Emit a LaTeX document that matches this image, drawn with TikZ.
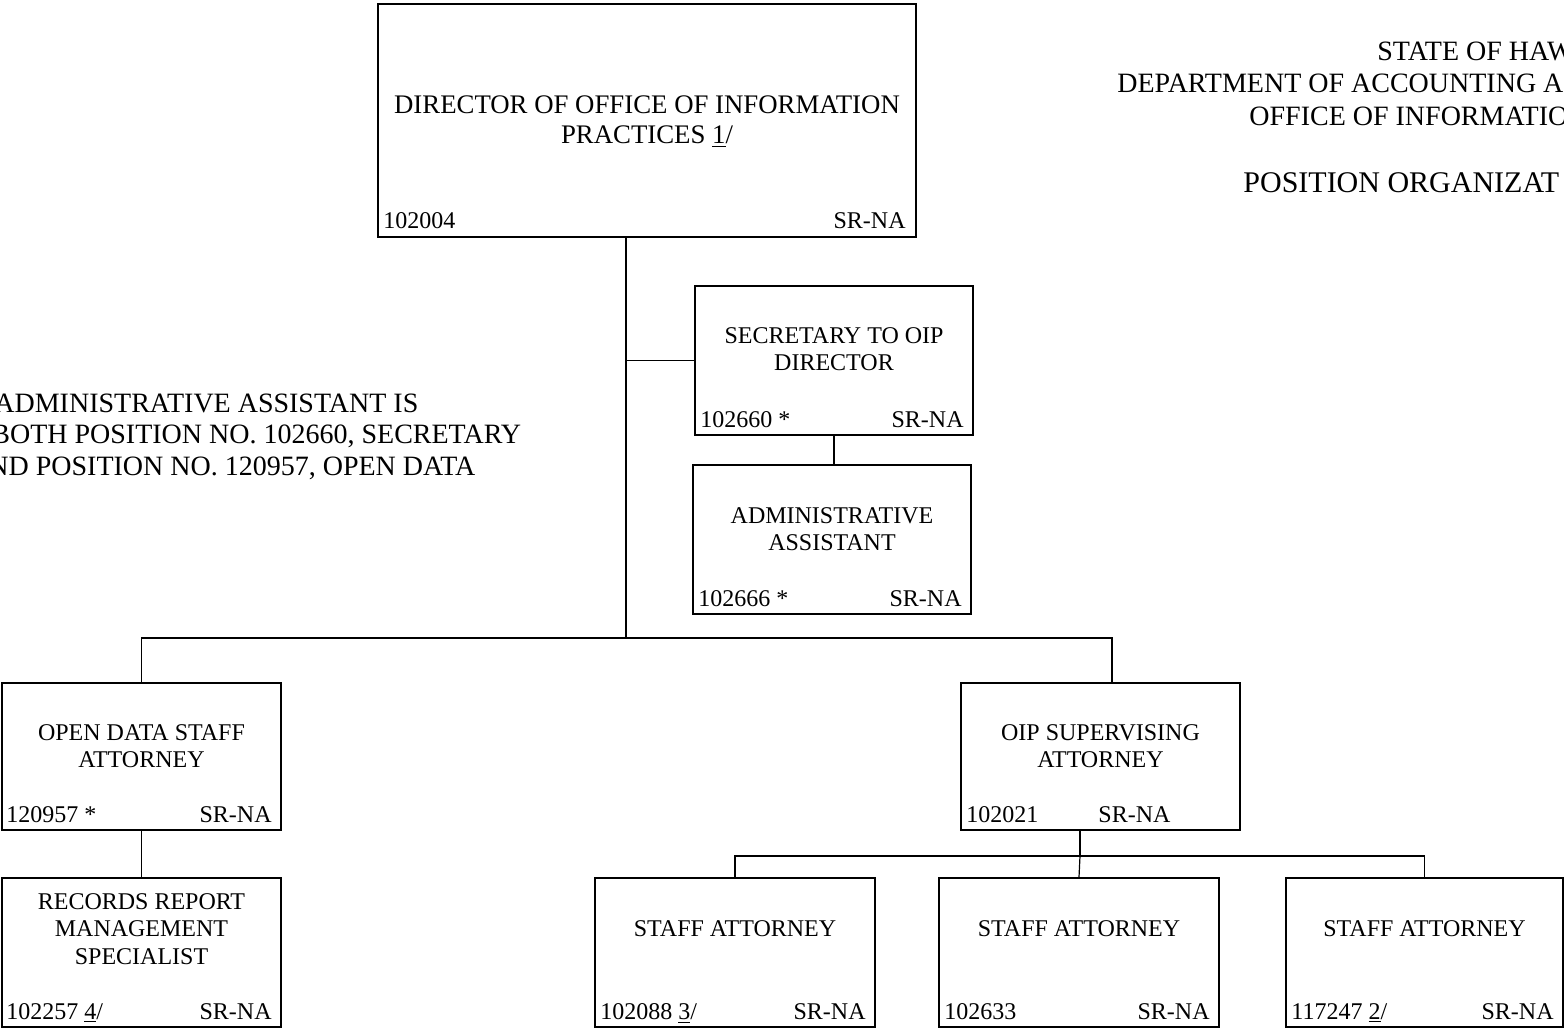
\documentclass[tikz,border=0pt]{standalone}
\usepackage{fontspec}
\setmainfont{Liberation Serif}
\usetikzlibrary{fit}
\begin{document}
\begin{tikzpicture}[x=0.5pt,y=-0.5pt]
\tikzset{
  orgbox/.style={draw, line width=0.7pt, inner sep=0pt},
  ttl/.style={align=center, font=\fontsize{12pt}{13.8pt}\selectfont, inner sep=0pt, anchor=north},
  dirttl/.style={align=center, font=\fontsize{13.4pt}{15pt}\selectfont, inner sep=0pt, anchor=north},
  numlbl/.style={font=\fontsize{12pt}{13.8pt}\selectfont, inner sep=0pt, anchor=base west},
  grdlbl/.style={font=\fontsize{12pt}{13.8pt}\selectfont, inner sep=0pt, anchor=base east},
  hdr/.style={font=\fontsize{14pt}{16.5pt}\selectfont, inner sep=0pt, anchor=base west},
  conn/.style={line width=0.6pt},
}
\useasboundingbox (0,0) rectangle (1564,1029);
\clip (0,0) rectangle (1564,1029);
\fill[white] (0,0) rectangle (1564,1029);

% ---- header (cut at the right edge) ----
\node[hdr] (h1) at (1377,60) {STATE OF HAW};
\node[hdr] (h2) at (1117,92) {DEPARTMENT OF ACCOUNTING A};
\node[hdr] (h3) at (1249,125) {OFFICE OF INFORMATIO};
\node[hdr, font=\fontsize{15pt}{17pt}\selectfont] (h4) at (1243,192) {POSITION ORGANIZAT};

% ---- note (cut at the left edge) ----
\node[hdr] (n1) at (-6,412) {ADMINISTRATIVE ASSISTANT IS};
\node[hdr] (n2) at (-9,443.5) {BOTH POSITION NO. 102660, SECRETARY};
\node[hdr] (n3) at (-12,475) {ND POSITION NO. 120957, OPEN DATA};

% ---- director ----
\node[orgbox, fit={(378,4) (916,237)}] (dir) {};
\node[dirttl] (dir-t) at (647,95) {DIRECTOR OF OFFICE OF INFORMATION\\PRACTICES \underline{1}/};
\node[numlbl] (dir-n) at (383,228) {102004};
\node[grdlbl] (dir-g) at (906,228) {SR-NA};

% ---- secretary ----
\node[orgbox, fit={(695,286) (973,435)}] (sec) {};
\node[ttl] (sec-t) at (834,327) {SECRETARY TO OIP\\DIRECTOR};
\node[numlbl] (sec-n) at (700,427) {102660 *};
\node[grdlbl] (sec-g) at (964,427) {SR-NA};

% ---- administrative assistant ----
\node[orgbox, fit={(693,465) (971,614)}] (adm) {};
\node[ttl] (adm-t) at (832,507) {ADMINISTRATIVE\\ASSISTANT};
\node[numlbl] (adm-n) at (698,606) {102666 *};
\node[grdlbl] (adm-g) at (962,606) {SR-NA};

% ---- open data staff attorney ----
\node[orgbox, fit={(2,683) (281,830)}] (ods) {};
\node[ttl] (ods-t) at (141.5,724) {OPEN DATA STAFF\\ATTORNEY};
\node[numlbl] (ods-n) at (6,822) {120957 *};
\node[grdlbl] (ods-g) at (272,822) {SR-NA};

% ---- records report management specialist ----
\node[orgbox, fit={(2,878) (281,1027)}] (rec) {};
\node[ttl] (rec-t) at (141.5,893) {RECORDS REPORT\\MANAGEMENT\\SPECIALIST};
\node[numlbl] (rec-n) at (6,1019) {102257 \underline{4}/};
\node[grdlbl] (rec-g) at (272,1019) {SR-NA};

% ---- OIP supervising attorney ----
\node[orgbox, fit={(961,683) (1240,830)}] (oip) {};
\node[ttl] (oip-t) at (1100.5,724) {OIP SUPERVISING\\ATTORNEY};
\node[numlbl] (oip-n) at (966,822) {102021};
\node[numlbl] (oip-g) at (1098,822) {SR-NA};

% ---- staff attorneys ----
\node[orgbox, fit={(595,878) (875,1027)}] (st1) {};
\node[ttl] (st1-t) at (735,920) {STAFF ATTORNEY};
\node[numlbl] (st1-n) at (600,1019) {102088 \underline{3}/};
\node[grdlbl] (st1-g) at (866,1019) {SR-NA};

\node[orgbox, fit={(939,878) (1219,1027)}] (st2) {};
\node[ttl] (st2-t) at (1079,920) {STAFF ATTORNEY};
\node[numlbl] (st2-n) at (944,1019) {102633};
\node[grdlbl] (st2-g) at (1210,1019) {SR-NA};

\node[orgbox, fit={(1286,878) (1563,1027)}] (st3) {};
\node[ttl] (st3-t) at (1424.5,920) {STAFF ATTORNEY};
\node[numlbl] (st3-n) at (1291,1019) {117247 \underline{2}/};
\node[grdlbl] (st3-g) at (1554,1019) {SR-NA};

% ---- connectors ----
\coordinate (dd) at (626,237);
\coordinate (busL) at (141.5,638);
\coordinate (busR) at (1112,638);
\coordinate (od) at (1080,830);
\coordinate (sb) at (1080,856);

\draw[conn] (dd) -- (dd |- busL);
\draw[conn] (sec.west) -- (sec.west -| dd);
\draw[conn] (sec.south) -- (sec.south |- adm.north);
\draw[conn] (ods.north) -- (busL) -- (busR) -- (busR |- oip.north);
\draw[conn] (ods.south) -- (rec.north);
\draw[conn] (od) -- (sb);
\draw[conn] (st1.north) -- (st1.north |- sb) -- (st3.north |- sb) -- (st3.north);
\draw[conn] (sb) -- (st2.north);
\end{tikzpicture}
\end{document}
